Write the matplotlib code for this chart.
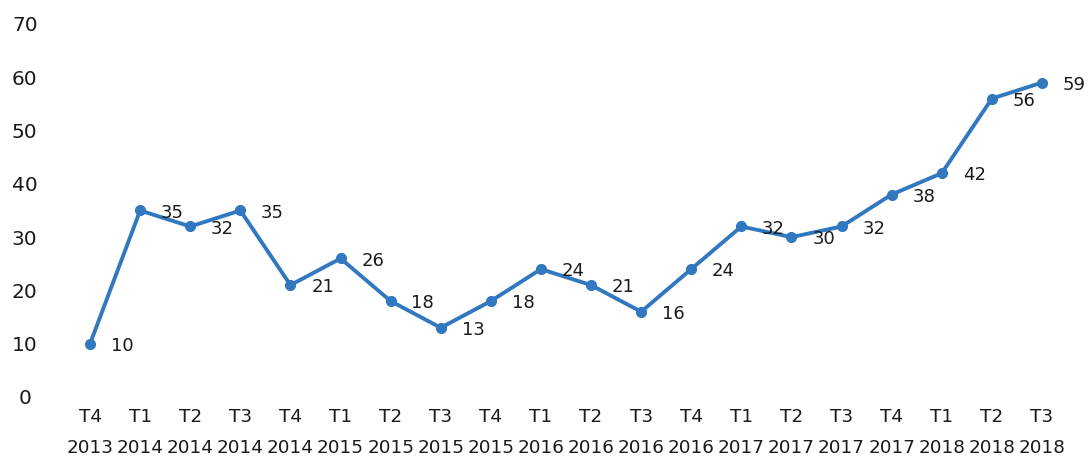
import matplotlib
matplotlib.use("Agg")
import matplotlib.pyplot as plt

quarters = ['T4', 'T1', 'T2', 'T3', 'T4', 'T1', 'T2', 'T3', 'T4', 'T1',
            'T2', 'T3', 'T4', 'T1', 'T2', 'T3', 'T4', 'T1', 'T2', 'T3']
years = ['2013', '2014', '2014', '2014', '2014', '2015', '2015', '2015',
         '2015', '2016', '2016', '2016', '2016', '2017', '2017', '2017',
         '2017', '2018', '2018', '2018']
values = [10, 35, 32, 35, 21, 26, 18, 13, 18, 24,
          21, 16, 24, 32, 30, 32, 38, 42, 56, 59]
y_ticks = [0, 10, 20, 30, 40, 50, 60, 70]

LINE_COLOR = '#3278c0'
TEXT_COLOR = '#1a1a1a'


def main() -> None:
    fig = plt.figure(figsize=(10.89, 4.68), dpi=100)
    ax = fig.add_axes([65 / 1089, 71 / 468, 1002 / 1089, 373 / 468])

    xs = list(range(len(values)))
    ax.plot(xs, values, color=LINE_COLOR, linewidth=2.8,
            marker='o', markersize=7, markerfacecolor=LINE_COLOR,
            markeredgecolor=LINE_COLOR, solid_capstyle='round')

    # value labels to the right of each point
    for x, v in zip(xs, values):
        ax.annotate(str(v), (x, v), xytext=(15, -1.5),
                    textcoords='offset points', ha='left', va='center',
                    fontsize=13, color=TEXT_COLOR)

    ax.set_xlim(-0.5, len(values) - 0.5)
    ax.set_ylim(0, 70)
    ax.set_yticks(y_ticks)
    ax.set_yticklabels([str(t) for t in y_ticks], fontsize=14.5,
                       color=TEXT_COLOR, ha='center')
    ax.set_xticks(xs)
    ax.set_xticklabels([f"{q}\n{y}" for q, y in zip(quarters, years)],
                       fontsize=13.2, color=TEXT_COLOR, linespacing=1.95)
    ax.tick_params(axis='y', length=0, pad=29)
    ax.tick_params(axis='x', length=0, pad=8)
    for spine in ax.spines.values():
        spine.set_visible(False)
    ax.grid(False)

    fig.savefig('out.png', dpi=100, facecolor='white')


if __name__ == "__main__":
    main()
